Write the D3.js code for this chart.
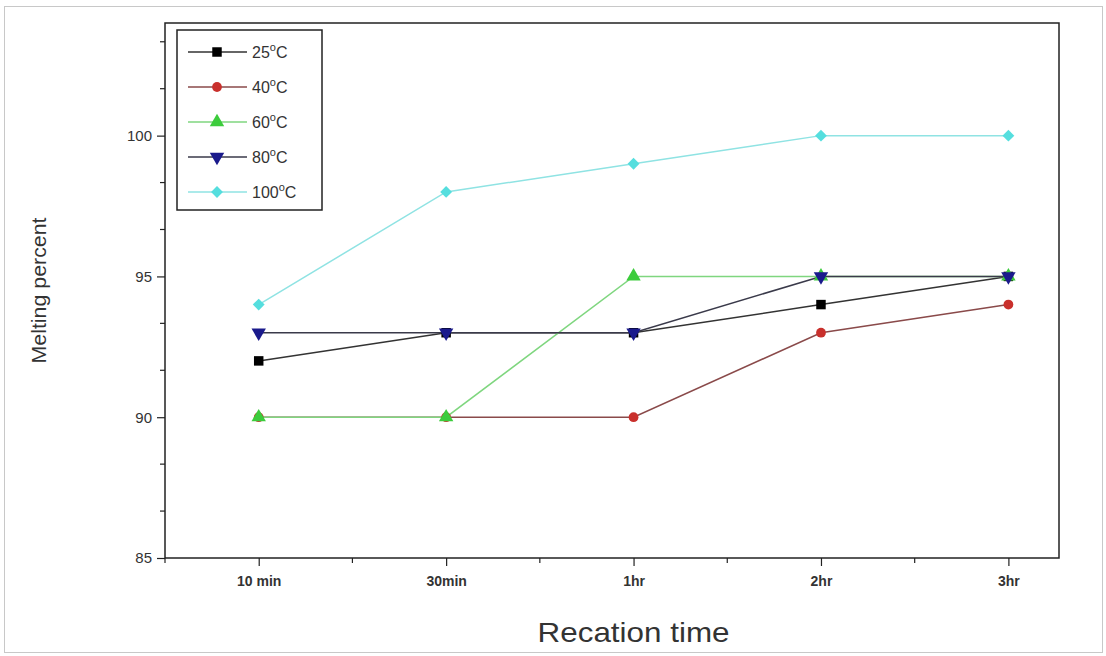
<!DOCTYPE html>
<html>
<head>
<meta charset="utf-8">
<script src="https://cdn.jsdelivr.net/npm/d3@7"></script>
<style>
  body { margin: 0; background: #fff; }
  text { font-family: Arial, "Liberation Sans", sans-serif; }
</style>
</head>
<body>
<div class="chart"></div>
<script>
// data
var times = ["10 min", "30min", "1hr", "2hr", "3hr"]
var seriesNames = ["25", "40", "60", "80", "100"]
var melt25 = [92, 93, 93, 94, 95]
var melt40 = [90, 90, 90, 93, 94]
var melt60 = [90, 90, 95, 95, 95]
var melt80 = [93, 93, 93, 95, 95]
var melt100 = [94, 98, 99, 100, 100]
var yTicks = [85, 90, 95, 100]

var W = 1106, H = 656
var margin = {top: 23, right: 47, bottom: 98, left: 165}
var width = W - margin.left - margin.right,
    height = H - margin.top - margin.bottom

var series = [
  {name: seriesNames[0], values: melt25, line: "#333333", fill: "#000000", shape: d3.symbolSquare, size: 90},
  {name: seriesNames[1], values: melt40, line: "#8a4a4a", fill: "#c9302c", shape: d3.symbolCircle, size: 75},
  {name: seriesNames[2], values: melt60, line: "#7fd67f", fill: "#3ccc3c", shape: d3.symbolTriangle, size: 90},
  {name: seriesNames[3], values: melt80, line: "#3a3a4a", fill: "#1a1a8c", shape: d3.symbolTriangle, size: 90, rot: 180},
  {name: seriesNames[4], values: melt100, line: "#8fe3e3", fill: "#55dede", shape: d3.symbolSquare, size: 70, rot: 45}
]

var svg = d3.select(".chart").append("svg")
    .attr("width", W)
    .attr("height", H)

// outer picture border
svg.append("rect")
    .attr("x", 4.5).attr("y", 6.5)
    .attr("width", W - 8).attr("height", H - 10)
    .attr("fill", "none")
    .attr("stroke", "#c8c8c8")

var g = svg.append("g")
    .attr("transform", "translate(" + margin.left + "," + margin.top + ")")

// index 0..4, with half a step of padding on the left
var x = d3.scaleLinear().domain([-0.5, 4.27]).range([0, width])
var y = d3.scaleLinear().domain([85, 104]).range([height, 0])

// minor ticks
var xMinor = [-0.5, 0.5, 1.5, 2.5, 3.5]
var yMinor = d3.range(85, 104, 5 / 3).filter(function(v) { return Math.abs((v - 85) % 5) > 0.1 && Math.abs((v - 85) % 5 - 5) > 0.1 })

g.selectAll(".xminor").data(xMinor).enter().append("line")
    .attr("x1", function(d) { return x(d) }).attr("x2", function(d) { return x(d) })
    .attr("y1", height).attr("y2", height + 5)
    .attr("stroke", "#222").attr("stroke-width", 1.2)

g.selectAll(".yminor").data(yMinor).enter().append("line")
    .attr("y1", function(d) { return y(d) }).attr("y2", function(d) { return y(d) })
    .attr("x1", 0).attr("x2", -5)
    .attr("stroke", "#222").attr("stroke-width", 1.2)

var xAxis = g.append("g")
    .attr("transform", "translate(0," + height + ")")
    .call(d3.axisBottom(x)
      .tickValues(d3.range(times.length))
      .tickFormat(function(i) { return times[i] })
      .tickSize(8).tickSizeOuter(0).tickPadding(10))
xAxis.select(".domain").remove()
xAxis.selectAll("line").attr("stroke", "#222").attr("stroke-width", 1.2)
xAxis.selectAll("text").attr("font-size", 14).attr("font-weight", "bold").attr("fill", "#333")

var yAxis = g.append("g")
    .call(d3.axisLeft(y)
      .tickValues(yTicks)
      .tickSize(8).tickSizeOuter(0).tickPadding(5))
yAxis.select(".domain").remove()
yAxis.selectAll("line").attr("stroke", "#222").attr("stroke-width", 1.2)
yAxis.selectAll("text").attr("font-size", 15).attr("fill", "#333")

// plot frame
g.append("rect")
    .attr("width", width).attr("height", height)
    .attr("fill", "none")
    .attr("stroke", "#222").attr("stroke-width", 1.5)

var line = d3.line()
    .x(function(d, i) { return x(i) })
    .y(function(d) { return y(d) })

function symbolPath(s) {
  return d3.symbol().type(s.shape).size(s.size)()
}
function rot(s) {
  return s.rot ? " rotate(" + s.rot + ")" : ""
}

series.forEach(function(s) {
  g.append("path")
      .datum(s.values)
      .attr("fill", "none")
      .attr("stroke", s.line)
      .attr("stroke-width", 1.5)
      .attr("d", line)
})

series.forEach(function(s) {
  g.selectAll(".pt" + s.name).data(s.values).enter().append("path")
      .attr("d", symbolPath(s))
      .attr("transform", function(d, i) {
        return "translate(" + x(i) + "," + y(d) + ")" + rot(s)
      })
      .attr("fill", s.fill)
})

// legend
var legend = svg.append("g").attr("transform", "translate(177,30)")
legend.append("rect")
    .attr("width", 145).attr("height", 180)
    .attr("fill", "#fff")
    .attr("stroke", "#222").attr("stroke-width", 1.5)

var item = legend.selectAll(".item").data(series).enter().append("g")
    .attr("transform", function(d, i) { return "translate(0," + (22 + i * 35) + ")" })

item.append("line")
    .attr("x1", 11).attr("x2", 70)
    .attr("stroke", function(d) { return d.line })
    .attr("stroke-width", 1.5)
item.append("path")
    .attr("d", symbolPath)
    .attr("transform", function(d) { return "translate(40,0)" + rot(d) })
    .attr("fill", function(d) { return d.fill })
var lt = item.append("text")
    .attr("x", 75).attr("y", 6)
    .attr("font-size", 16).attr("fill", "#333")
lt.append("tspan").text(function(d) { return d.name })
lt.append("tspan").attr("dy", -7).attr("font-size", 11).text("o")
lt.append("tspan").attr("dy", 7).text("C")

// axis titles
svg.append("text")
    .attr("transform", "translate(46," + (margin.top + height / 2) + ") rotate(-90)")
    .attr("text-anchor", "middle")
    .attr("font-size", 20).attr("fill", "#333")
    .attr("textLength", 146).attr("lengthAdjust", "spacingAndGlyphs")
    .text("Melting percent")

svg.append("text")
    .attr("x", margin.left + x(2)).attr("y", 642)
    .attr("text-anchor", "middle")
    .attr("font-size", 28).attr("fill", "#333")
    .attr("textLength", 192).attr("lengthAdjust", "spacingAndGlyphs")
    .text("Recation time")
</script>
</body>
</html>
